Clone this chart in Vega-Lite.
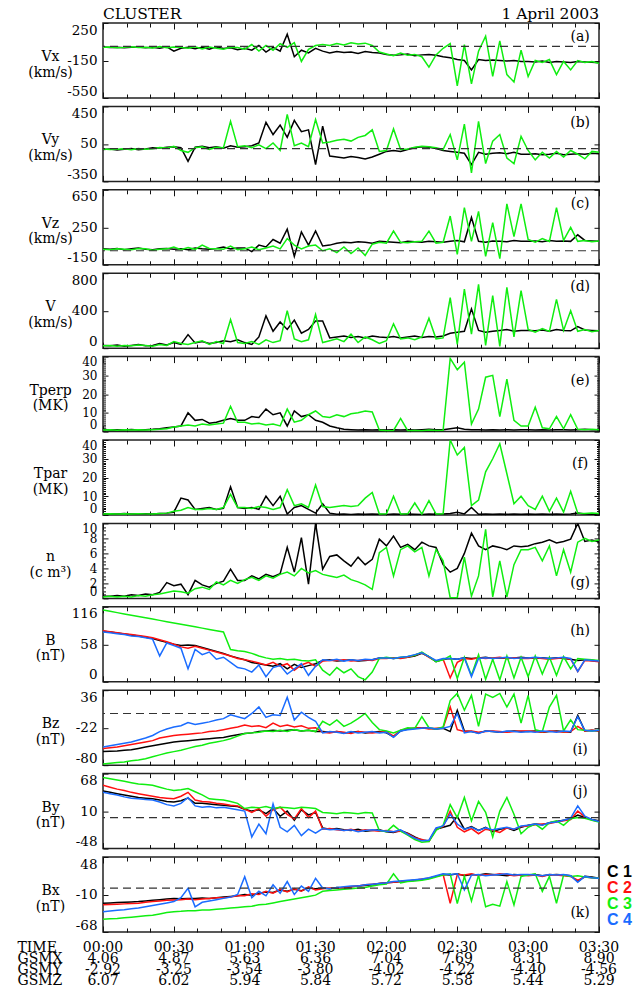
{
"$schema":"https://vega.github.io/schema/vega-lite/v6.json",
"background":"white",
"padding":{"left":17,"top":6,"right":0,"bottom":0},
"bounds":"flush",
"spacing":8.4,
"resolve":{"scale":{"color":"independent"}},
"config":{
 "font":"DejaVu Serif",
 "locale":{"number":{"decimal":".","thousands":",","grouping":[3],"currency":["$",""],"minus":"-"}},
 "view":{"stroke":"#222","strokeWidth":1.5},
 "axis":{"grid":false,"domain":false,"labelOverlap":false,"tickColor":"#111","tickWidth":1,"labelFont":"DejaVu Serif","labelFontSize":13.5,"labelColor":"black","titleFont":"DejaVu Serif","titleFontSize":14,"titleFontWeight":"normal","titleColor":"black"},
 "axisX":{"labels":false,"tickCount":21},
 "axisLeft":{"tickSize":-5,"labelPadding":11,"labelFlush":true,"titleAngle":0,"titleX":-53,"titleY":33.5,"titleAlign":"center","titleBaseline":"middle","titleLineHeight":15.5},
 "axisRight":{"tickSize":-5,"labels":false},
 "text":{"font":"DejaVu Serif"}
},
"datasets":{
"a":[{"t":0,"k":-5,"g":-8},{"t":3,"k":-12,"g":-6},{"t":6,"k":-8,"g":-14},{"t":9,"k":-15,"g":-10},{"t":12,"k":-10,"g":-4},{"t":15,"k":-6,"g":-12},{"t":18,"k":-14,"g":-8},{"t":21,"k":-9,"g":-16},{"t":24,"k":-18,"g":-2},{"t":27,"k":-4,"g":-14},{"t":30,"k":-50,"g":-6},{"t":33,"k":-20,"g":-10},{"t":36,"k":-8,"g":-18},{"t":39,"k":-25,"g":-4},{"t":42,"k":-10,"g":-28},{"t":45,"k":-30,"g":-6},{"t":48,"k":-5,"g":-20},{"t":51,"k":-22,"g":-30},{"t":54,"k":-15,"g":-10},{"t":57,"k":-35,"g":-12},{"t":60,"k":-20,"g":-30},{"t":63,"k":-40,"g":20},{"t":66,"k":10,"g":-50},{"t":69,"k":-60,"g":10},{"t":72,"k":-10,"g":-40},{"t":75,"k":-50,"g":30},{"t":78,"k":130,"g":-10},{"t":81,"k":-110,"g":40},{"t":84,"k":-40,"g":-160},{"t":87,"k":-70,"g":-30},{"t":90,"k":-20,"g":10},{"t":93,"k":-50,"g":20},{"t":96,"k":-70,"g":10},{"t":99,"k":-55,"g":30},{"t":102,"k":-65,"g":15},{"t":105,"k":-60,"g":40},{"t":108,"k":-75,"g":25},{"t":111,"k":-55,"g":35},{"t":114,"k":-65,"g":10},{"t":117,"k":-70,"g":-60},{"t":120,"k":-85,"g":-80},{"t":123,"k":-95,"g":-100},{"t":126,"k":-90,"g":-70},{"t":129,"k":-80,"g":-95},{"t":132,"k":-100,"g":-85},{"t":135,"k":-90,"g":-110},{"t":138,"k":-85,"g":-220},{"t":141,"k":-95,"g":-90},{"t":144,"k":-110,"g":-20},{"t":147,"k":-120,"g":30},{"t":150,"k":-140,"g":-420},{"t":153,"k":-150,"g":20},{"t":156,"k":-250,"g":-400},{"t":159,"k":-140,"g":-50},{"t":162,"k":-150,"g":110},{"t":165,"k":-145,"g":-320},{"t":168,"k":-150,"g":60},{"t":171,"k":-155,"g":-300},{"t":174,"k":-150,"g":-380},{"t":177,"k":-160,"g":-40},{"t":180,"k":-160,"g":-320},{"t":183,"k":-165,"g":-150},{"t":186,"k":-155,"g":-170},{"t":189,"k":-170,"g":-140},{"t":192,"k":-160,"g":-300},{"t":195,"k":-165,"g":-160},{"t":198,"k":-170,"g":-250},{"t":201,"k":-160,"g":-150},{"t":204,"k":-165,"g":-170},{"t":207,"k":-170,"g":-160},{"t":210,"k":-175,"g":-180}],
"b":[{"t":0,"k":-10,"g":-5},{"t":3,"k":-5,"g":-10},{"t":6,"k":-15,"g":-8},{"t":9,"k":-8,"g":-2},{"t":12,"k":0,"g":-12},{"t":15,"k":-12,"g":0},{"t":18,"k":-5,"g":-6},{"t":21,"k":10,"g":-2},{"t":24,"k":5,"g":12},{"t":27,"k":15,"g":5},{"t":30,"k":20,"g":25},{"t":33,"k":10,"g":-20},{"t":36,"k":-135,"g":-40},{"t":39,"k":15,"g":10},{"t":42,"k":25,"g":20},{"t":45,"k":10,"g":-10},{"t":48,"k":20,"g":15},{"t":51,"k":5,"g":10},{"t":54,"k":30,"g":290},{"t":57,"k":15,"g":20},{"t":60,"k":20,"g":30},{"t":63,"k":30,"g":10},{"t":66,"k":60,"g":40},{"t":69,"k":280,"g":0},{"t":72,"k":150,"g":60},{"t":75,"k":250,"g":-20},{"t":78,"k":120,"g":365},{"t":81,"k":300,"g":30},{"t":84,"k":180,"g":60},{"t":87,"k":200,"g":20},{"t":90,"k":-170,"g":310},{"t":93,"k":240,"g":60},{"t":96,"k":-80,"g":70},{"t":99,"k":-90,"g":90},{"t":102,"k":-100,"g":100},{"t":105,"k":-85,"g":80},{"t":108,"k":-95,"g":120},{"t":111,"k":-110,"g":140},{"t":114,"k":-90,"g":200},{"t":117,"k":-60,"g":-30},{"t":120,"k":-30,"g":-20},{"t":123,"k":-20,"g":210},{"t":126,"k":-30,"g":-10},{"t":129,"k":-10,"g":-5},{"t":132,"k":10,"g":15},{"t":135,"k":20,"g":25},{"t":138,"k":15,"g":20},{"t":141,"k":0,"g":10},{"t":144,"k":-20,"g":-10},{"t":147,"k":-30,"g":150},{"t":150,"k":-40,"g":-120},{"t":153,"k":-50,"g":260},{"t":156,"k":-170,"g":-260},{"t":159,"k":-40,"g":290},{"t":162,"k":-60,"g":-160},{"t":165,"k":-50,"g":80},{"t":168,"k":-45,"g":150},{"t":171,"k":-55,"g":-100},{"t":174,"k":-40,"g":-160},{"t":177,"k":-60,"g":130},{"t":180,"k":-60,"g":-20},{"t":183,"k":-55,"g":-120},{"t":186,"k":-65,"g":-40},{"t":189,"k":-60,"g":-100},{"t":192,"k":-50,"g":-30},{"t":195,"k":-65,"g":-90},{"t":198,"k":-60,"g":-20},{"t":201,"k":-55,"g":-60},{"t":204,"k":-60,"g":-110},{"t":207,"k":-50,"g":-30},{"t":210,"k":-55,"g":-40}],
"c":[{"t":0,"k":20,"g":15},{"t":3,"k":15,"g":10},{"t":6,"k":25,"g":20},{"t":9,"k":10,"g":15},{"t":12,"k":20,"g":10},{"t":15,"k":30,"g":25},{"t":18,"k":15,"g":20},{"t":21,"k":10,"g":5},{"t":24,"k":20,"g":15},{"t":27,"k":25,"g":20},{"t":30,"k":15,"g":40},{"t":33,"k":20,"g":10},{"t":36,"k":10,"g":35},{"t":39,"k":30,"g":15},{"t":42,"k":20,"g":60},{"t":45,"k":15,"g":25},{"t":48,"k":25,"g":20},{"t":51,"k":40,"g":15},{"t":54,"k":20,"g":50},{"t":57,"k":30,"g":10},{"t":60,"k":30,"g":20},{"t":63,"k":-10,"g":40},{"t":66,"k":60,"g":10},{"t":69,"k":40,"g":30},{"t":72,"k":120,"g":50},{"t":75,"k":80,"g":20},{"t":78,"k":230,"g":130},{"t":81,"k":-60,"g":60},{"t":84,"k":200,"g":20},{"t":87,"k":60,"g":50},{"t":90,"k":210,"g":60},{"t":93,"k":50,"g":0},{"t":96,"k":60,"g":20},{"t":99,"k":80,"g":-20},{"t":102,"k":90,"g":40},{"t":105,"k":85,"g":-30},{"t":108,"k":95,"g":30},{"t":111,"k":90,"g":-50},{"t":114,"k":80,"g":70},{"t":117,"k":100,"g":90},{"t":120,"k":95,"g":80},{"t":123,"k":90,"g":210},{"t":126,"k":85,"g":90},{"t":129,"k":100,"g":85},{"t":132,"k":95,"g":95},{"t":135,"k":90,"g":100},{"t":138,"k":100,"g":210},{"t":141,"k":95,"g":80},{"t":144,"k":90,"g":90},{"t":147,"k":100,"g":370},{"t":150,"k":110,"g":-40},{"t":153,"k":95,"g":460},{"t":156,"k":355,"g":100},{"t":159,"k":100,"g":420},{"t":162,"k":90,"g":-60},{"t":165,"k":105,"g":300},{"t":168,"k":100,"g":-85},{"t":171,"k":95,"g":500},{"t":174,"k":110,"g":150},{"t":177,"k":100,"g":500},{"t":180,"k":100,"g":120},{"t":183,"k":105,"g":90},{"t":186,"k":95,"g":130},{"t":189,"k":110,"g":100},{"t":192,"k":100,"g":460},{"t":195,"k":105,"g":110},{"t":198,"k":100,"g":250},{"t":201,"k":170,"g":100},{"t":204,"k":110,"g":110},{"t":207,"k":105,"g":95},{"t":210,"k":100,"g":105}],
"d":[{"t":0,"k":30,"g":25},{"t":3,"k":25,"g":30},{"t":6,"k":35,"g":20},{"t":9,"k":20,"g":30},{"t":12,"k":30,"g":25},{"t":15,"k":40,"g":35},{"t":18,"k":25,"g":30},{"t":21,"k":30,"g":20},{"t":24,"k":50,"g":40},{"t":27,"k":35,"g":30},{"t":30,"k":60,"g":70},{"t":33,"k":40,"g":50},{"t":36,"k":145,"g":40},{"t":39,"k":55,"g":60},{"t":42,"k":70,"g":80},{"t":45,"k":50,"g":40},{"t":48,"k":60,"g":70},{"t":51,"k":80,"g":50},{"t":54,"k":70,"g":305},{"t":57,"k":90,"g":60},{"t":60,"k":60,"g":50},{"t":63,"k":40,"g":70},{"t":66,"k":120,"g":40},{"t":69,"k":345,"g":90},{"t":72,"k":180,"g":60},{"t":75,"k":280,"g":80},{"t":78,"k":200,"g":400},{"t":81,"k":300,"g":100},{"t":84,"k":160,"g":70},{"t":87,"k":200,"g":90},{"t":90,"k":290,"g":360},{"t":93,"k":290,"g":60},{"t":96,"k":110,"g":80},{"t":99,"k":120,"g":100},{"t":102,"k":130,"g":70},{"t":105,"k":115,"g":150},{"t":108,"k":125,"g":60},{"t":111,"k":110,"g":120},{"t":114,"k":130,"g":90},{"t":117,"k":120,"g":50},{"t":120,"k":115,"g":80},{"t":123,"k":125,"g":260},{"t":126,"k":110,"g":100},{"t":129,"k":120,"g":110},{"t":132,"k":130,"g":90},{"t":135,"k":115,"g":120},{"t":138,"k":125,"g":320},{"t":141,"k":120,"g":100},{"t":144,"k":130,"g":110},{"t":147,"k":160,"g":540},{"t":150,"k":170,"g":40},{"t":153,"k":180,"g":630},{"t":156,"k":420,"g":150},{"t":159,"k":190,"g":680},{"t":162,"k":170,"g":30},{"t":165,"k":180,"g":560},{"t":168,"k":190,"g":20},{"t":171,"k":200,"g":650},{"t":174,"k":180,"g":120},{"t":177,"k":190,"g":615},{"t":180,"k":190,"g":200},{"t":183,"k":185,"g":170},{"t":186,"k":195,"g":210},{"t":189,"k":180,"g":180},{"t":192,"k":200,"g":520},{"t":195,"k":190,"g":190},{"t":198,"k":185,"g":400},{"t":201,"k":230,"g":180},{"t":204,"k":195,"g":200},{"t":207,"k":190,"g":175},{"t":210,"k":185,"g":190}],
"e":[{"t":0,"k":1.2,"g":0.8},{"t":3,"k":0.8,"g":1},{"t":6,"k":1,"g":0.7},{"t":9,"k":0.9,"g":1},{"t":12,"k":1.1,"g":0.9},{"t":15,"k":0.8,"g":1},{"t":18,"k":1,"g":0.8},{"t":21,"k":1.2,"g":1},{"t":24,"k":1.5,"g":1.2},{"t":27,"k":2,"g":1.5},{"t":30,"k":2.5,"g":2.5},{"t":33,"k":3,"g":3},{"t":36,"k":10,"g":3.5},{"t":39,"k":6,"g":3},{"t":42,"k":6.5,"g":4},{"t":45,"k":4.5,"g":3.5},{"t":48,"k":5,"g":4},{"t":51,"k":6,"g":4.5},{"t":54,"k":7,"g":13.5},{"t":57,"k":6,"g":5},{"t":60,"k":6,"g":5},{"t":63,"k":8,"g":4},{"t":66,"k":7.5,"g":4.5},{"t":69,"k":12,"g":3.5},{"t":72,"k":9,"g":4},{"t":75,"k":10,"g":3},{"t":78,"k":3,"g":12},{"t":81,"k":11,"g":5},{"t":84,"k":8,"g":6},{"t":87,"k":9,"g":9},{"t":90,"k":6,"g":11},{"t":93,"k":5,"g":8},{"t":96,"k":3,"g":7.5},{"t":99,"k":2,"g":9},{"t":102,"k":1.2,"g":8},{"t":105,"k":1,"g":9.5},{"t":108,"k":0.8,"g":10},{"t":111,"k":1,"g":11},{"t":114,"k":0.9,"g":10.5},{"t":117,"k":1,"g":0.8},{"t":120,"k":0.8,"g":0.5},{"t":123,"k":1,"g":0.6},{"t":126,"k":0.9,"g":7},{"t":129,"k":1,"g":0.5},{"t":132,"k":0.8,"g":0.6},{"t":135,"k":1,"g":0.5},{"t":138,"k":1.2,"g":0.8},{"t":141,"k":1,"g":0.6},{"t":144,"k":1,"g":0.7},{"t":147,"k":1.5,"g":39},{"t":150,"k":2,"g":33},{"t":153,"k":1.2,"g":37},{"t":156,"k":1,"g":4},{"t":159,"k":1,"g":12},{"t":162,"k":0.9,"g":29},{"t":165,"k":1,"g":30},{"t":168,"k":0.8,"g":8},{"t":171,"k":1,"g":28},{"t":174,"k":0.9,"g":6},{"t":177,"k":1,"g":3},{"t":180,"k":1,"g":3},{"t":183,"k":0.8,"g":13},{"t":186,"k":1,"g":2},{"t":189,"k":0.9,"g":1.5},{"t":192,"k":1,"g":8},{"t":195,"k":1,"g":1.5},{"t":198,"k":0.8,"g":9},{"t":201,"k":1,"g":1.2},{"t":204,"k":1.2,"g":1},{"t":207,"k":1,"g":1.2},{"t":210,"k":1,"g":1}],
"f":[{"t":0,"k":0.5,"g":0.5},{"t":3,"k":0.6,"g":0.6},{"t":6,"k":0.5,"g":0.5},{"t":9,"k":0.8,"g":0.6},{"t":12,"k":0.5,"g":0.5},{"t":15,"k":0.6,"g":0.7},{"t":18,"k":0.7,"g":0.6},{"t":21,"k":0.5,"g":0.5},{"t":24,"k":0.8,"g":0.8},{"t":27,"k":1,"g":1},{"t":30,"k":1.5,"g":2},{"t":33,"k":9,"g":2.5},{"t":36,"k":8,"g":4},{"t":39,"k":3,"g":3},{"t":42,"k":3.5,"g":3},{"t":45,"k":4,"g":3.5},{"t":48,"k":3,"g":3},{"t":51,"k":3.5,"g":4},{"t":54,"k":15,"g":11},{"t":57,"k":4,"g":4},{"t":60,"k":3.5,"g":4},{"t":63,"k":4,"g":3.5},{"t":66,"k":3,"g":4.5},{"t":69,"k":10,"g":4},{"t":72,"k":5,"g":3},{"t":75,"k":10,"g":4},{"t":78,"k":0.5,"g":13.5},{"t":81,"k":4,"g":5},{"t":84,"k":5,"g":6},{"t":87,"k":3,"g":4},{"t":90,"k":1,"g":16},{"t":93,"k":6,"g":4.5},{"t":96,"k":1,"g":4},{"t":99,"k":0.4,"g":4.5},{"t":102,"k":0.5,"g":5},{"t":105,"k":0.3,"g":4.5},{"t":108,"k":0.5,"g":5},{"t":111,"k":0.4,"g":9},{"t":114,"k":0.5,"g":12},{"t":117,"k":0.4,"g":0.5},{"t":120,"k":0.3,"g":0.6},{"t":123,"k":0.5,"g":10},{"t":126,"k":0.4,"g":0.5},{"t":129,"k":0.5,"g":0.6},{"t":132,"k":0.4,"g":6.4},{"t":135,"k":0.3,"g":0.5},{"t":138,"k":0.5,"g":7.7},{"t":141,"k":0.4,"g":0.5},{"t":144,"k":0.5,"g":0.6},{"t":147,"k":0.8,"g":40},{"t":150,"k":1.5,"g":32},{"t":153,"k":0.6,"g":36},{"t":156,"k":4,"g":5},{"t":159,"k":0.4,"g":8},{"t":162,"k":0.5,"g":23},{"t":165,"k":0.4,"g":30},{"t":168,"k":0.5,"g":38},{"t":171,"k":0.4,"g":22},{"t":174,"k":0.5,"g":6},{"t":177,"k":0.4,"g":10},{"t":180,"k":0.5,"g":5},{"t":183,"k":0.4,"g":3},{"t":186,"k":0.5,"g":10},{"t":189,"k":0.4,"g":2},{"t":192,"k":0.5,"g":9},{"t":195,"k":0.4,"g":1.5},{"t":198,"k":0.5,"g":12.6},{"t":201,"k":1,"g":1},{"t":204,"k":0.5,"g":0.8},{"t":207,"k":0.4,"g":1},{"t":210,"k":0.5,"g":0.8}],
"g":[{"t":0,"k":0.3,"g":0.2},{"t":3,"k":0.3,"g":0.3},{"t":6,"k":0.4,"g":0.2},{"t":9,"k":0.3,"g":0.3},{"t":12,"k":0.5,"g":0.2},{"t":15,"k":0.4,"g":0.4},{"t":18,"k":0.6,"g":0.3},{"t":21,"k":0.5,"g":0.5},{"t":24,"k":0.8,"g":0.6},{"t":27,"k":2.1,"g":0.8},{"t":30,"k":1.7,"g":1},{"t":33,"k":1.9,"g":0.9},{"t":36,"k":0.5,"g":0.7},{"t":39,"k":2.4,"g":1.3},{"t":42,"k":1.8,"g":1.5},{"t":45,"k":1.5,"g":1.2},{"t":48,"k":2,"g":2.2},{"t":51,"k":2.3,"g":1.8},{"t":54,"k":3.9,"g":2.4},{"t":57,"k":2.4,"g":2},{"t":60,"k":2.4,"g":2.5},{"t":63,"k":3,"g":2.8},{"t":66,"k":2.6,"g":2.4},{"t":69,"k":3.2,"g":3},{"t":72,"k":2.9,"g":2.7},{"t":75,"k":3.3,"g":3.2},{"t":78,"k":6.8,"g":3.5},{"t":81,"k":3.5,"g":3},{"t":84,"k":8.1,"g":4},{"t":87,"k":1.9,"g":3.4},{"t":90,"k":10,"g":3.7},{"t":93,"k":3.9,"g":3.2},{"t":96,"k":5.6,"g":3},{"t":99,"k":5.8,"g":2.8},{"t":102,"k":5,"g":3.1},{"t":105,"k":4.3,"g":2.5},{"t":108,"k":5.5,"g":2.2},{"t":111,"k":4.5,"g":1.8},{"t":114,"k":5.2,"g":1.2},{"t":117,"k":7.9,"g":6.1},{"t":120,"k":7,"g":6.8},{"t":123,"k":8.3,"g":3},{"t":126,"k":6.8,"g":6.5},{"t":129,"k":7.2,"g":7},{"t":132,"k":6.5,"g":6.2},{"t":135,"k":7.5,"g":6.8},{"t":138,"k":7,"g":3},{"t":141,"k":6.8,"g":6.5},{"t":144,"k":4.5,"g":5},{"t":147,"k":3.5,"g":0.1},{"t":150,"k":4,"g":0.1},{"t":153,"k":6,"g":5.5},{"t":156,"k":8.7,"g":0.3},{"t":159,"k":7,"g":3},{"t":162,"k":6.5,"g":9.2},{"t":165,"k":7,"g":0.2},{"t":168,"k":6.8,"g":5},{"t":171,"k":6.5,"g":0.2},{"t":174,"k":7,"g":4.5},{"t":177,"k":6.9,"g":6.5},{"t":180,"k":7,"g":6.5},{"t":183,"k":7.3,"g":6.8},{"t":186,"k":7.5,"g":5},{"t":189,"k":7.8,"g":7},{"t":192,"k":7.4,"g":3},{"t":195,"k":7.6,"g":6.5},{"t":198,"k":7.9,"g":3.5},{"t":201,"k":10,"g":7.5},{"t":204,"k":7.6,"g":8},{"t":207,"k":7.8,"g":7.6},{"t":210,"k":7.5,"g":7.8}],
"h":[{"t":0,"k":78,"r":79,"g":111,"b":77},{"t":3,"k":77,"r":77.5,"g":109,"b":76},{"t":6,"k":75.5,"r":76,"g":107,"b":74.5},{"t":9,"k":74,"r":74.5,"g":105,"b":73},{"t":12,"k":72.5,"r":73,"g":103,"b":71},{"t":15,"k":71,"r":71.5,"g":101,"b":70},{"t":18,"k":69,"r":70,"g":99,"b":68},{"t":21,"k":67,"r":68,"g":97,"b":66},{"t":24,"k":64,"r":65,"g":95,"b":40},{"t":27,"k":61,"r":62,"g":93,"b":60},{"t":30,"k":58,"r":58,"g":91,"b":56},{"t":33,"k":56,"r":54,"g":89,"b":52},{"t":36,"k":57,"r":52,"g":87,"b":20},{"t":39,"k":56,"r":55,"g":85,"b":50},{"t":42,"k":53,"r":52,"g":83,"b":42},{"t":45,"k":50,"r":49,"g":81,"b":46},{"t":48,"k":47,"r":46,"g":79,"b":35},{"t":51,"k":44,"r":43,"g":77,"b":38},{"t":54,"k":40,"r":40,"g":50,"b":30},{"t":57,"k":37,"r":36,"g":48,"b":22},{"t":60,"k":34,"r":34,"g":47,"b":20},{"t":63,"k":30,"r":32,"g":44,"b":15},{"t":66,"k":28,"r":29,"g":40,"b":26},{"t":69,"k":26,"r":26,"g":37,"b":8},{"t":72,"k":24,"r":30,"g":35,"b":22},{"t":75,"k":28,"r":24,"g":36,"b":25},{"t":78,"k":20,"r":28,"g":34,"b":12},{"t":81,"k":27,"r":18,"g":35,"b":20},{"t":84,"k":22,"r":26,"g":33,"b":28},{"t":87,"k":25,"r":30,"g":32,"b":10},{"t":90,"k":28,"r":24,"g":34,"b":24},{"t":93,"k":33,"r":32,"g":18,"b":34},{"t":96,"k":34,"r":33,"g":10,"b":33},{"t":99,"k":32,"r":33,"g":22,"b":35},{"t":102,"k":33,"r":34,"g":14,"b":32},{"t":105,"k":34,"r":32,"g":20,"b":34},{"t":108,"k":32,"r":33,"g":8,"b":33},{"t":111,"k":33,"r":34,"g":3,"b":35},{"t":114,"k":34,"r":33,"g":15,"b":34},{"t":117,"k":37,"r":36,"g":36,"b":37},{"t":120,"k":37,"r":36,"g":38,"b":37},{"t":123,"k":36,"r":37,"g":36,"b":36},{"t":126,"k":37,"r":36,"g":38,"b":38},{"t":129,"k":38,"r":38,"g":39,"b":39},{"t":132,"k":40,"r":41,"g":41,"b":42},{"t":135,"k":44,"r":45,"g":46,"b":45},{"t":138,"k":39,"r":38,"g":39,"b":39},{"t":141,"k":31,"r":32,"g":31,"b":33},{"t":144,"k":35,"r":35,"g":34,"b":36},{"t":147,"k":36,"r":6,"g":40,"b":36},{"t":150,"k":35,"r":30,"g":5,"b":35},{"t":153,"k":37,"r":36,"g":38,"b":37},{"t":156,"k":36,"r":35,"g":10,"b":8},{"t":159,"k":37,"r":37,"g":42,"b":36},{"t":162,"k":38,"r":36,"g":4,"b":37},{"t":165,"k":36,"r":37,"g":35,"b":36},{"t":168,"k":37,"r":38,"g":3,"b":37},{"t":171,"k":36,"r":36,"g":40,"b":38},{"t":174,"k":37,"r":37,"g":6,"b":36},{"t":177,"k":38,"r":36,"g":38,"b":37},{"t":180,"k":37,"r":36,"g":8,"b":37},{"t":183,"k":36,"r":37,"g":40,"b":38},{"t":186,"k":37,"r":36,"g":12,"b":37},{"t":189,"k":36,"r":35,"g":38,"b":36},{"t":192,"k":37,"r":36,"g":10,"b":37},{"t":195,"k":36,"r":37,"g":39,"b":38},{"t":198,"k":35,"r":35,"g":20,"b":36},{"t":201,"k":33,"r":16,"g":36,"b":16},{"t":204,"k":34,"r":33,"g":35,"b":34},{"t":207,"k":33,"r":32,"g":34,"b":33},{"t":210,"k":32,"r":31,"g":33,"b":32}],
"i":[{"t":0,"k":-59,"r":-54,"g":-78,"b":-52},{"t":3,"k":-58.5,"r":-53,"g":-77,"b":-50},{"t":6,"k":-58,"r":-52,"g":-76,"b":-48},{"t":9,"k":-57,"r":-50,"g":-75,"b":-46},{"t":12,"k":-56,"r":-48,"g":-73,"b":-44},{"t":15,"k":-54,"r":-46,"g":-72,"b":-41},{"t":18,"k":-52,"r":-44,"g":-70,"b":-38},{"t":21,"k":-50,"r":-42,"g":-67,"b":-34},{"t":24,"k":-48,"r":-38,"g":-64,"b":-28},{"t":27,"k":-46,"r":-36,"g":-61,"b":-24},{"t":30,"k":-44,"r":-34,"g":-59,"b":-21},{"t":33,"k":-43,"r":-33,"g":-57,"b":-19},{"t":36,"k":-42,"r":-32,"g":-54,"b":-14},{"t":39,"k":-41,"r":-31,"g":-51,"b":-17},{"t":42,"k":-40,"r":-30,"g":-49,"b":-15},{"t":45,"k":-39,"r":-28,"g":-46,"b":-13},{"t":48,"k":-38,"r":-27,"g":-44,"b":-10},{"t":51,"k":-37,"r":-25,"g":-42,"b":-8},{"t":54,"k":-35,"r":-23,"g":-39,"b":-2},{"t":57,"k":-33,"r":-21,"g":-35,"b":-5},{"t":60,"k":-31,"r":-18,"g":-31,"b":-8},{"t":63,"k":-30,"r":-20,"g":-30,"b":0},{"t":66,"k":-28,"r":-19,"g":-29,"b":10},{"t":69,"k":-27,"r":-22,"g":-27,"b":-6},{"t":72,"k":-26,"r":-15,"g":-28,"b":-2},{"t":75,"k":-27,"r":-20,"g":-26,"b":-3},{"t":78,"k":-26,"r":-18,"g":-28,"b":25},{"t":81,"k":-25,"r":-21,"g":-25,"b":-10},{"t":84,"k":-27,"r":-19,"g":-27,"b":2},{"t":87,"k":-26,"r":-23,"g":-26,"b":-6},{"t":90,"k":-28,"r":-22,"g":-28,"b":-12},{"t":93,"k":-28,"r":-29,"g":-12,"b":-30},{"t":96,"k":-29,"r":-30,"g":-18,"b":-28},{"t":99,"k":-28,"r":-28,"g":-10,"b":-29},{"t":102,"k":-30,"r":-29,"g":-20,"b":-31},{"t":105,"k":-29,"r":-31,"g":-15,"b":-28},{"t":108,"k":-28,"r":-28,"g":-8,"b":-30},{"t":111,"k":-30,"r":-29,"g":0,"b":-29},{"t":114,"k":-29,"r":-30,"g":-14,"b":-28},{"t":117,"k":-28,"r":-29,"g":-25,"b":-30},{"t":120,"k":-30,"r":-28,"g":-27,"b":-29},{"t":123,"k":-36,"r":-35,"g":-30,"b":-37},{"t":126,"k":-27,"r":-26,"g":-26,"b":-27},{"t":129,"k":-24,"r":-24,"g":-22,"b":-25},{"t":132,"k":-23,"r":-23,"g":-23,"b":-24},{"t":135,"k":-22,"r":-22,"g":-5,"b":-23},{"t":138,"k":-23,"r":-24,"g":-22,"b":-22},{"t":141,"k":-24,"r":-23,"g":-24,"b":-24},{"t":144,"k":-23,"r":-22,"g":-21,"b":-23},{"t":147,"k":-28,"r":10,"g":20,"b":-20},{"t":150,"k":5,"r":-25,"g":31,"b":0},{"t":153,"k":-27,"r":-28,"g":5,"b":-30},{"t":156,"k":-28,"r":-27,"g":28,"b":-28},{"t":159,"k":-30,"r":-29,"g":-20,"b":-31},{"t":162,"k":-27,"r":-28,"g":30,"b":-27},{"t":165,"k":-28,"r":-27,"g":25,"b":-28},{"t":168,"k":-29,"r":-28,"g":31,"b":-29},{"t":171,"k":-28,"r":-29,"g":10,"b":-27},{"t":174,"k":-27,"r":-28,"g":30,"b":-28},{"t":177,"k":-28,"r":-27,"g":-15,"b":-29},{"t":180,"k":-28,"r":-27,"g":28,"b":-28},{"t":183,"k":-27,"r":-28,"g":-25,"b":-29},{"t":186,"k":-29,"r":-29,"g":-28,"b":-27},{"t":189,"k":-28,"r":-27,"g":10,"b":-28},{"t":192,"k":-27,"r":-28,"g":28,"b":-29},{"t":195,"k":-28,"r":-29,"g":-27,"b":-27},{"t":198,"k":-29,"r":-28,"g":-10,"b":-28},{"t":201,"k":-3,"r":-20,"g":-25,"b":-5},{"t":204,"k":-27,"r":-27,"g":-26,"b":-26},{"t":207,"k":-26,"r":-26,"g":-27,"b":-27},{"t":210,"k":-27,"r":-27,"g":-26,"b":-26}],
"j":[{"t":0,"k":41,"r":50,"g":62,"b":39},{"t":3,"k":39,"r":47,"g":60,"b":37},{"t":6,"k":37,"r":44,"g":58,"b":35},{"t":9,"k":35,"r":42,"g":56,"b":32},{"t":12,"k":33,"r":39,"g":54,"b":30},{"t":15,"k":31,"r":37,"g":52,"b":29},{"t":18,"k":30,"r":35,"g":51,"b":28},{"t":21,"k":29,"r":33,"g":50,"b":27},{"t":24,"k":27,"r":31,"g":47,"b":24},{"t":27,"k":25,"r":30,"g":44,"b":20},{"t":30,"k":24,"r":29,"g":42,"b":18},{"t":33,"k":26,"r":33,"g":43,"b":22},{"t":36,"k":30,"r":39,"g":45,"b":31},{"t":39,"k":22,"r":27,"g":40,"b":18},{"t":42,"k":22,"r":25,"g":35,"b":16},{"t":45,"k":21,"r":24,"g":29,"b":17},{"t":48,"k":20,"r":22,"g":28,"b":15},{"t":51,"k":19,"r":21,"g":27,"b":16},{"t":54,"k":18,"r":19,"g":25,"b":14},{"t":57,"k":17,"r":18,"g":22,"b":12},{"t":60,"k":13,"r":13,"g":14,"b":10},{"t":63,"k":10,"r":8,"g":16,"b":-30},{"t":66,"k":12,"r":14,"g":15,"b":-10},{"t":69,"k":6,"r":2,"g":17,"b":-25},{"t":72,"k":14,"r":12,"g":14,"b":21},{"t":75,"k":2,"r":16,"g":16,"b":-15},{"t":78,"k":10,"r":5,"g":15,"b":-22},{"t":81,"k":-4,"r":-2,"g":14,"b":-12},{"t":84,"k":12,"r":14,"g":16,"b":-28},{"t":87,"k":4,"r":0,"g":15,"b":-18},{"t":90,"k":8,"r":10,"g":14,"b":-24},{"t":93,"k":-16,"r":-18,"g":8,"b":-17},{"t":96,"k":-18,"r":-17,"g":7,"b":-19},{"t":99,"k":-17,"r":-19,"g":6,"b":-18},{"t":102,"k":-19,"r":-20,"g":8,"b":-20},{"t":105,"k":-20,"r":-18,"g":7,"b":-19},{"t":108,"k":-18,"r":-21,"g":6,"b":-22},{"t":111,"k":-21,"r":-19,"g":8,"b":-20},{"t":114,"k":-20,"r":-20,"g":7,"b":-19},{"t":117,"k":-19,"r":-21,"g":-20,"b":-20},{"t":120,"k":-22,"r":-20,"g":-22,"b":-21},{"t":123,"k":-23,"r":-22,"g":-12,"b":-22},{"t":126,"k":-20,"r":-21,"g":-21,"b":-19},{"t":129,"k":-24,"r":-25,"g":-27,"b":-26},{"t":132,"k":-30,"r":-31,"g":-34,"b":-32},{"t":135,"k":-35,"r":-34,"g":-38,"b":-36},{"t":138,"k":-36,"r":-37,"g":-37,"b":-35},{"t":141,"k":-18,"r":-17,"g":-20,"b":-16},{"t":144,"k":-15,"r":-14,"g":-12,"b":-13},{"t":147,"k":-12,"r":10,"g":20,"b":5},{"t":150,"k":2,"r":-15,"g":0,"b":-10},{"t":153,"k":-18,"r":-22,"g":31,"b":-18},{"t":156,"k":-14,"r":-17,"g":-5,"b":-15},{"t":159,"k":-20,"r":-25,"g":25,"b":-20},{"t":162,"k":-15,"r":-18,"g":8,"b":-16},{"t":165,"k":-22,"r":-20,"g":-30,"b":-19},{"t":168,"k":-18,"r":-23,"g":10,"b":-17},{"t":171,"k":-16,"r":-16,"g":31,"b":-15},{"t":174,"k":-20,"r":-18,"g":5,"b":-18},{"t":177,"k":-15,"r":-14,"g":-25,"b":-13},{"t":180,"k":-12,"r":-13,"g":-15,"b":-12},{"t":183,"k":-10,"r":-11,"g":-10,"b":-10},{"t":186,"k":-11,"r":-10,"g":-18,"b":-12},{"t":189,"k":-8,"r":-9,"g":-8,"b":-8},{"t":192,"k":-6,"r":-7,"g":-5,"b":-7},{"t":195,"k":-4,"r":-5,"g":-12,"b":-4},{"t":198,"k":-2,"r":-3,"g":-2,"b":-1},{"t":201,"k":4,"r":10,"g":0,"b":18},{"t":204,"k":0,"r":1,"g":-1,"b":2},{"t":207,"k":-3,"r":-4,"g":-4,"b":-3},{"t":210,"k":-5,"r":-6,"g":-7,"b":-6}],
"k":[{"t":0,"k":-23.6,"r":-26,"g":-48.4,"b":-36.6},{"t":3,"k":-23,"r":-25.5,"g":-47.5,"b":-35.5},{"t":6,"k":-22.5,"r":-25,"g":-47,"b":-34.5},{"t":9,"k":-22,"r":-24.5,"g":-46,"b":-33.5},{"t":12,"k":-21.5,"r":-24,"g":-45,"b":-32},{"t":15,"k":-21,"r":-23.6,"g":-44,"b":-31},{"t":18,"k":-20,"r":-22,"g":-43,"b":-29},{"t":21,"k":-19,"r":-21,"g":-42,"b":-27},{"t":24,"k":-18,"r":-20,"g":-40,"b":-25},{"t":27,"k":-17,"r":-19,"g":-38,"b":-23},{"t":30,"k":-16,"r":-18.5,"g":-36.6,"b":-21},{"t":33,"k":-16.5,"r":-18,"g":-36,"b":-15},{"t":36,"k":-16,"r":-17,"g":-35,"b":-0.5},{"t":39,"k":-16,"r":-18,"g":-35,"b":-29},{"t":42,"k":-15.5,"r":-17,"g":-34,"b":-22},{"t":45,"k":-16,"r":-16,"g":-34,"b":-20},{"t":48,"k":-15,"r":-15,"g":-33,"b":-18},{"t":51,"k":-14,"r":-15,"g":-32,"b":-16},{"t":54,"k":-13,"r":-14,"g":-31,"b":-14},{"t":57,"k":-12,"r":-12,"g":-30,"b":-10},{"t":60,"k":-10,"r":-12,"g":-29,"b":17.6},{"t":63,"k":-11,"r":-9,"g":-28,"b":-15},{"t":66,"k":-8,"r":-10,"g":-26,"b":-5},{"t":69,"k":-6,"r":-5,"g":-25,"b":-12},{"t":72,"k":-7,"r":-8,"g":-23,"b":5},{"t":75,"k":-3,"r":-2,"g":-21,"b":-8},{"t":78,"k":-5,"r":-6,"g":-19,"b":10},{"t":81,"k":-2,"r":-1,"g":-17,"b":-10},{"t":84,"k":-4,"r":-5,"g":-15,"b":3},{"t":87,"k":0,"r":2,"g":-13,"b":-5},{"t":90,"k":-1,"r":-3,"g":-11,"b":15},{"t":93,"k":0,"r":-1,"g":-5,"b":0},{"t":96,"k":-1,"r":0,"g":-4,"b":-1},{"t":99,"k":1,"r":0,"g":-3,"b":1},{"t":102,"k":0,"r":1,"g":-2,"b":2},{"t":105,"k":2,"r":2,"g":-1,"b":3},{"t":108,"k":3,"r":3,"g":0,"b":3},{"t":111,"k":4,"r":5,"g":1,"b":5},{"t":114,"k":5,"r":6,"g":3,"b":6},{"t":117,"k":7,"r":7,"g":5,"b":7},{"t":120,"k":8,"r":8,"g":6,"b":8},{"t":123,"k":9,"r":9,"g":22,"b":10},{"t":126,"k":10,"r":10,"g":8,"b":11},{"t":129,"k":11,"r":11,"g":10,"b":12},{"t":132,"k":12,"r":12,"g":11,"b":13},{"t":135,"k":13,"r":14,"g":12,"b":14},{"t":138,"k":15,"r":15,"g":14,"b":16},{"t":141,"k":18,"r":18,"g":17,"b":19},{"t":144,"k":21,"r":21,"g":20,"b":22},{"t":147,"k":20,"r":-23.6,"g":22,"b":21},{"t":150,"k":22,"r":21,"g":-24,"b":22},{"t":153,"k":19,"r":20,"g":18,"b":-3},{"t":156,"k":21,"r":22,"g":-20,"b":20},{"t":159,"k":20,"r":19,"g":20,"b":21},{"t":162,"k":22,"r":21,"g":-29,"b":19},{"t":165,"k":21,"r":20,"g":-25,"b":20},{"t":168,"k":20,"r":22,"g":-28,"b":21},{"t":171,"k":19,"r":21,"g":10,"b":22},{"t":174,"k":21,"r":19,"g":-26,"b":20},{"t":177,"k":20,"r":20,"g":18,"b":21},{"t":180,"k":20,"r":19,"g":20,"b":21},{"t":183,"k":21,"r":20,"g":22,"b":20},{"t":186,"k":19,"r":18,"g":-5,"b":19},{"t":189,"k":20,"r":21,"g":18,"b":21},{"t":192,"k":21,"r":20,"g":-23.6,"b":20},{"t":195,"k":20,"r":19,"g":20,"b":21},{"t":198,"k":19,"r":18,"g":18,"b":19},{"t":201,"k":10,"r":12,"g":19,"b":9},{"t":204,"k":18,"r":17,"g":17,"b":18},{"t":207,"k":17,"r":16,"g":16,"b":16},{"t":210,"k":15,"r":15,"g":15,"b":15}],
"pos":[{"t":0,"row":"TIME","val":"00:00"},{"t":30,"row":"TIME","val":"00:30"},{"t":60,"row":"TIME","val":"01:00"},{"t":90,"row":"TIME","val":"01:30"},{"t":120,"row":"TIME","val":"02:00"},{"t":150,"row":"TIME","val":"02:30"},{"t":180,"row":"TIME","val":"03:00"},{"t":210,"row":"TIME","val":"03:30"},{"t":0,"row":"GSMX","val":"4.06"},{"t":30,"row":"GSMX","val":"4.87"},{"t":60,"row":"GSMX","val":"5.63"},{"t":90,"row":"GSMX","val":"6.36"},{"t":120,"row":"GSMX","val":"7.04"},{"t":150,"row":"GSMX","val":"7.69"},{"t":180,"row":"GSMX","val":"8.31"},{"t":210,"row":"GSMX","val":"8.90"},{"t":0,"row":"GSMY","val":"-2.92"},{"t":30,"row":"GSMY","val":"-3.25"},{"t":60,"row":"GSMY","val":"-3.54"},{"t":90,"row":"GSMY","val":"-3.80"},{"t":120,"row":"GSMY","val":"-4.02"},{"t":150,"row":"GSMY","val":"-4.22"},{"t":180,"row":"GSMY","val":"-4.40"},{"t":210,"row":"GSMY","val":"-4.56"},{"t":0,"row":"GSMZ","val":"6.07"},{"t":30,"row":"GSMZ","val":"6.02"},{"t":60,"row":"GSMZ","val":"5.94"},{"t":90,"row":"GSMZ","val":"5.84"},{"t":120,"row":"GSMZ","val":"5.72"},{"t":150,"row":"GSMZ","val":"5.58"},{"t":180,"row":"GSMZ","val":"5.44"},{"t":210,"row":"GSMZ","val":"5.29"}]
},
"vconcat":[
{"width":496,"height":75,"layer":[
 {"data":{"name":"a"},"transform":[{"fold":["k","g"],"as":["s","v"]}],"mark":{"type":"line","clip":true,"strokeWidth":1.5},
  "encoding":{"x":{"field":"t","type":"quantitative","scale":{"domain":[0,210],"nice":false},"axis":{"orient":"bottom","title":null,"tickSize":{"condition":{"test":"datum.value % 30 === 0","value":-6},"value":-4}}},
   "y":{"field":"v","type":"quantitative","scale":{"domain":[-550,250],"nice":false,"zero":false},"axis":{"values":[-550,-150,250],"title":["Vx","(km/s)"]}},
   "color":{"field":"s","type":"nominal","scale":{"domain":["k","r","g","b"],"range":["#000000","#ff1010","#10ee10","#1a6cff"]},"legend":null}}},
 {"data":{"values":[{}]},"mark":{"type":"rule","strokeDash":[8,5],"color":"#333","strokeWidth":1.2},"encoding":{"y":{"datum":0,"type":"quantitative","axis":null}}},
 {"data":{"values":[{}]},"mark":{"type":"text","fontSize":14},"encoding":{"x":{"datum":202,"type":"quantitative","axis":{"orient":"top","title":null,"tickSize":{"condition":{"test":"datum.value % 30 === 0","value":-6},"value":-4}}},"y":{"datum":104,"type":"quantitative","axis":{"orient":"right","values":[-550,-150,250],"title":null}},"text":{"value":"(a)"}}},
 {"data":{"values":[{}]},"mark":{"type":"text","fontSize":15.5,"align":"left","baseline":"alphabetic","dy":-4},"encoding":{"x":{"datum":0,"type":"quantitative","axis":null},"y":{"datum":250,"type":"quantitative","axis":null},"text":{"value":"CLUSTER"}}},
 {"data":{"values":[{}]},"mark":{"type":"text","fontSize":15.5,"align":"right","baseline":"alphabetic","dy":-4},"encoding":{"x":{"datum":210,"type":"quantitative","axis":null},"y":{"datum":250,"type":"quantitative","axis":null},"text":{"value":"1 April 2003"}}}
],"resolve":{"axis":{"x":"independent","y":"independent"}}},
{"width":496,"height":75,"layer":[
 {"data":{"name":"b"},"transform":[{"fold":["k","g"],"as":["s","v"]}],"mark":{"type":"line","clip":true,"strokeWidth":1.5},
  "encoding":{"x":{"field":"t","type":"quantitative","scale":{"domain":[0,210],"nice":false},"axis":{"orient":"bottom","title":null,"tickSize":{"condition":{"test":"datum.value % 30 === 0","value":-6},"value":-4}}},
   "y":{"field":"v","type":"quantitative","scale":{"domain":[-350,450],"nice":false,"zero":false},"axis":{"values":[-350,50,450],"title":["Vy","(km/s)"]}},
   "color":{"field":"s","type":"nominal","scale":{"domain":["k","r","g","b"],"range":["#000000","#ff1010","#10ee10","#1a6cff"]},"legend":null}}},
 {"data":{"values":[{}]},"mark":{"type":"rule","strokeDash":[8,5],"color":"#333","strokeWidth":1.2},"encoding":{"y":{"datum":0,"type":"quantitative","axis":null}}},
 {"data":{"values":[{}]},"mark":{"type":"text","fontSize":14},"encoding":{"x":{"datum":202,"type":"quantitative","axis":{"orient":"top","title":null,"tickSize":{"condition":{"test":"datum.value % 30 === 0","value":-6},"value":-4}}},"y":{"datum":276,"type":"quantitative","axis":{"orient":"right","values":[-350,50,450],"title":null}},"text":{"value":"(b)"}}}
],"resolve":{"axis":{"x":"independent","y":"independent"}}},
{"width":496,"height":75,"layer":[
 {"data":{"name":"c"},"transform":[{"fold":["k","g"],"as":["s","v"]}],"mark":{"type":"line","clip":true,"strokeWidth":1.5},
  "encoding":{"x":{"field":"t","type":"quantitative","scale":{"domain":[0,210],"nice":false},"axis":{"orient":"bottom","title":null,"tickSize":{"condition":{"test":"datum.value % 30 === 0","value":-6},"value":-4}}},
   "y":{"field":"v","type":"quantitative","scale":{"domain":[-150,650],"nice":false,"zero":false},"axis":{"values":[-150,250,650],"title":["Vz","(km/s)"]}},
   "color":{"field":"s","type":"nominal","scale":{"domain":["k","r","g","b"],"range":["#000000","#ff1010","#10ee10","#1a6cff"]},"legend":null}}},
 {"data":{"values":[{}]},"mark":{"type":"rule","strokeDash":[8,5],"color":"#333","strokeWidth":1.2},"encoding":{"y":{"datum":0,"type":"quantitative","axis":null}}},
 {"data":{"values":[{}]},"mark":{"type":"text","fontSize":14},"encoding":{"x":{"datum":202,"type":"quantitative","axis":{"orient":"top","title":null,"tickSize":{"condition":{"test":"datum.value % 30 === 0","value":-6},"value":-4}}},"y":{"datum":497,"type":"quantitative","axis":{"orient":"right","values":[-150,250,650],"title":null}},"text":{"value":"(c)"}}}
],"resolve":{"axis":{"x":"independent","y":"independent"}}},
{"width":496,"height":75,"layer":[
 {"data":{"name":"d"},"transform":[{"fold":["k","g"],"as":["s","v"]}],"mark":{"type":"line","clip":true,"strokeWidth":1.5},
  "encoding":{"x":{"field":"t","type":"quantitative","scale":{"domain":[0,210],"nice":false},"axis":{"orient":"bottom","title":null,"tickSize":{"condition":{"test":"datum.value % 30 === 0","value":-6},"value":-4}}},
   "y":{"field":"v","type":"quantitative","scale":{"domain":[0,800],"nice":false,"zero":false},"axis":{"values":[0,400,800],"title":["V","(km/s)"]}},
   "color":{"field":"s","type":"nominal","scale":{"domain":["k","r","g","b"],"range":["#000000","#ff1010","#10ee10","#1a6cff"]},"legend":null}}},
 {"data":{"values":[{}]},"mark":{"type":"text","fontSize":14},"encoding":{"x":{"datum":202,"type":"quantitative","axis":{"orient":"top","title":null,"tickSize":{"condition":{"test":"datum.value % 30 === 0","value":-6},"value":-4}}},"y":{"datum":649,"type":"quantitative","axis":{"orient":"right","values":[0,400,800],"title":null}},"text":{"value":"(d)"}}}
],"resolve":{"axis":{"x":"independent","y":"independent"}}},
{"width":496,"height":75,"layer":[
 {"data":{"name":"e"},"transform":[{"fold":["k","g"],"as":["s","v"]}],"mark":{"type":"line","clip":true,"strokeWidth":1.5},
  "encoding":{"x":{"field":"t","type":"quantitative","scale":{"domain":[0,210],"nice":false},"axis":{"orient":"bottom","title":null,"tickSize":{"condition":{"test":"datum.value % 30 === 0","value":-6},"value":-4}}},
   "y":{"field":"v","type":"quantitative","scale":{"domain":[0,40],"nice":false,"zero":false},"axis":{"values":[0,10,20,30,40],"labelFontSize":12,"title":["Tperp","(MK)"]}},
   "color":{"field":"s","type":"nominal","scale":{"domain":["k","r","g","b"],"range":["#000000","#ff1010","#10ee10","#1a6cff"]},"legend":null}}},
 {"data":{"values":[{}]},"mark":{"type":"rule","opacity":0},"encoding":{"y":{"datum":0,"type":"quantitative","axis":{"orient":"left","values":[1,2,3,4,5,6,7,8,9,11,12,13,14,15,16,17,18,19,21,22,23,24,25,26,27,28,29,31,32,33,34,35,36,37,38,39],"labels":false,"tickSize":-2.5,"title":null}}}},
 {"data":{"values":[{}]},"mark":{"type":"rule","opacity":0},"encoding":{"y":{"datum":0,"type":"quantitative","axis":{"orient":"right","values":[1,2,3,4,5,6,7,8,9,11,12,13,14,15,16,17,18,19,21,22,23,24,25,26,27,28,29,31,32,33,34,35,36,37,38,39],"labels":false,"tickSize":-2.5,"title":null}}}},
 {"data":{"values":[{}]},"mark":{"type":"text","fontSize":14},"encoding":{"x":{"datum":202,"type":"quantitative","axis":{"orient":"top","title":null,"tickSize":{"condition":{"test":"datum.value % 30 === 0","value":-6},"value":-4}}},"y":{"datum":27,"type":"quantitative","axis":{"orient":"right","values":[0,10,20,30,40],"title":null}},"text":{"value":"(e)"}}}
],"resolve":{"axis":{"x":"independent","y":"independent"}}},
{"width":496,"height":75,"layer":[
 {"data":{"name":"f"},"transform":[{"fold":["k","g"],"as":["s","v"]}],"mark":{"type":"line","clip":true,"strokeWidth":1.5},
  "encoding":{"x":{"field":"t","type":"quantitative","scale":{"domain":[0,210],"nice":false},"axis":{"orient":"bottom","title":null,"tickSize":{"condition":{"test":"datum.value % 30 === 0","value":-6},"value":-4}}},
   "y":{"field":"v","type":"quantitative","scale":{"domain":[0,40],"nice":false,"zero":false},"axis":{"values":[0,10,20,30,40],"labelFontSize":12,"title":["Tpar","(MK)"]}},
   "color":{"field":"s","type":"nominal","scale":{"domain":["k","r","g","b"],"range":["#000000","#ff1010","#10ee10","#1a6cff"]},"legend":null}}},
 {"data":{"values":[{}]},"mark":{"type":"rule","opacity":0},"encoding":{"y":{"datum":0,"type":"quantitative","axis":{"orient":"left","values":[1,2,3,4,5,6,7,8,9,11,12,13,14,15,16,17,18,19,21,22,23,24,25,26,27,28,29,31,32,33,34,35,36,37,38,39],"labels":false,"tickSize":-2.5,"title":null}}}},
 {"data":{"values":[{}]},"mark":{"type":"rule","opacity":0},"encoding":{"y":{"datum":0,"type":"quantitative","axis":{"orient":"right","values":[1,2,3,4,5,6,7,8,9,11,12,13,14,15,16,17,18,19,21,22,23,24,25,26,27,28,29,31,32,33,34,35,36,37,38,39],"labels":false,"tickSize":-2.5,"title":null}}}},
 {"data":{"values":[{}]},"mark":{"type":"text","fontSize":14},"encoding":{"x":{"datum":202,"type":"quantitative","axis":{"orient":"top","title":null,"tickSize":{"condition":{"test":"datum.value % 30 === 0","value":-6},"value":-4}}},"y":{"datum":27,"type":"quantitative","axis":{"orient":"right","values":[0,10,20,30,40],"title":null}},"text":{"value":"(f)"}}}
],"resolve":{"axis":{"x":"independent","y":"independent"}}},
{"width":496,"height":75,"layer":[
 {"data":{"name":"g"},"transform":[{"fold":["k","g"],"as":["s","v"]}],"mark":{"type":"line","clip":true,"strokeWidth":1.5},
  "encoding":{"x":{"field":"t","type":"quantitative","scale":{"domain":[0,210],"nice":false},"axis":{"orient":"bottom","title":null,"tickSize":{"condition":{"test":"datum.value % 30 === 0","value":-6},"value":-4}}},
   "y":{"field":"v","type":"quantitative","scale":{"domain":[0,10],"nice":false,"zero":false},"axis":{"values":[0,2,4,6,8,10],"labelFontSize":12,"title":["n","(c m³)"]}},
   "color":{"field":"s","type":"nominal","scale":{"domain":["k","r","g","b"],"range":["#000000","#ff1010","#10ee10","#1a6cff"]},"legend":null}}},
 {"data":{"values":[{}]},"mark":{"type":"rule","opacity":0},"encoding":{"y":{"datum":0,"type":"quantitative","axis":{"orient":"left","values":[0.5,1,1.5,2.5,3,3.5,4.5,5,5.5,6.5,7,7.5,8.5,9,9.5],"labels":false,"tickSize":-2.5,"title":null}}}},
 {"data":{"values":[{}]},"mark":{"type":"rule","opacity":0},"encoding":{"y":{"datum":0,"type":"quantitative","axis":{"orient":"right","values":[0.5,1,1.5,2.5,3,3.5,4.5,5,5.5,6.5,7,7.5,8.5,9,9.5],"labels":false,"tickSize":-2.5,"title":null}}}},
 {"data":{"values":[{}]},"mark":{"type":"text","fontSize":14},"encoding":{"x":{"datum":202,"type":"quantitative","axis":{"orient":"top","title":null,"tickSize":{"condition":{"test":"datum.value % 30 === 0","value":-6},"value":-4}}},"y":{"datum":2.1,"type":"quantitative","axis":{"orient":"right","values":[0,2,4,6,8,10],"title":null}},"text":{"value":"(g)"}}}
],"resolve":{"axis":{"x":"independent","y":"independent"}}},
{"width":496,"height":75,"layer":[
 {"data":{"name":"h"},"transform":[{"fold":["k","r","g","b"],"as":["s","v"]}],"mark":{"type":"line","clip":true,"strokeWidth":1.5},
  "encoding":{"x":{"field":"t","type":"quantitative","scale":{"domain":[0,210],"nice":false},"axis":{"orient":"bottom","title":null,"tickSize":{"condition":{"test":"datum.value % 30 === 0","value":-6},"value":-4}}},
   "y":{"field":"v","type":"quantitative","scale":{"domain":[0,116],"nice":false,"zero":false},"axis":{"values":[0,58,116],"title":["B","(nT)"]}},
   "color":{"field":"s","type":"nominal","scale":{"domain":["k","r","g","b"],"range":["#000000","#ff1010","#10ee10","#1a6cff"]},"legend":null}}},
 {"data":{"values":[{}]},"mark":{"type":"text","fontSize":14},"encoding":{"x":{"datum":202,"type":"quantitative","axis":{"orient":"top","title":null,"tickSize":{"condition":{"test":"datum.value % 30 === 0","value":-6},"value":-4}}},"y":{"datum":78,"type":"quantitative","axis":{"orient":"right","values":[0,58,116],"title":null}},"text":{"value":"(h)"}}}
],"resolve":{"axis":{"x":"independent","y":"independent"}}},
{"width":496,"height":75,"layer":[
 {"data":{"name":"i"},"transform":[{"fold":["k","r","g","b"],"as":["s","v"]}],"mark":{"type":"line","clip":true,"strokeWidth":1.5},
  "encoding":{"x":{"field":"t","type":"quantitative","scale":{"domain":[0,210],"nice":false},"axis":{"orient":"bottom","title":null,"tickSize":{"condition":{"test":"datum.value % 30 === 0","value":-6},"value":-4}}},
   "y":{"field":"v","type":"quantitative","scale":{"domain":[-80,36],"nice":false,"zero":false},"axis":{"values":[-80,-22,36],"title":["Bz","(nT)"]}},
   "color":{"field":"s","type":"nominal","scale":{"domain":["k","r","g","b"],"range":["#000000","#ff1010","#10ee10","#1a6cff"]},"legend":null}}},
 {"data":{"values":[{}]},"mark":{"type":"rule","strokeDash":[8,5],"color":"#333","strokeWidth":1.2},"encoding":{"y":{"datum":0,"type":"quantitative","axis":null}}},
 {"data":{"values":[{}]},"mark":{"type":"text","fontSize":14},"encoding":{"x":{"datum":202,"type":"quantitative","axis":{"orient":"top","title":null,"tickSize":{"condition":{"test":"datum.value % 30 === 0","value":-6},"value":-4}}},"y":{"datum":-57,"type":"quantitative","axis":{"orient":"right","values":[-80,-22,36],"title":null}},"text":{"value":"(i)"}}}
],"resolve":{"axis":{"x":"independent","y":"independent"}}},
{"width":496,"height":75,"layer":[
 {"data":{"name":"j"},"transform":[{"fold":["k","r","g","b"],"as":["s","v"]}],"mark":{"type":"line","clip":true,"strokeWidth":1.5},
  "encoding":{"x":{"field":"t","type":"quantitative","scale":{"domain":[0,210],"nice":false},"axis":{"orient":"bottom","title":null,"tickSize":{"condition":{"test":"datum.value % 30 === 0","value":-6},"value":-4}}},
   "y":{"field":"v","type":"quantitative","scale":{"domain":[-48,68],"nice":false,"zero":false},"axis":{"values":[-48,10,68],"title":["By","(nT)"]}},
   "color":{"field":"s","type":"nominal","scale":{"domain":["k","r","g","b"],"range":["#000000","#ff1010","#10ee10","#1a6cff"]},"legend":null}}},
 {"data":{"values":[{}]},"mark":{"type":"rule","strokeDash":[8,5],"color":"#333","strokeWidth":1.2},"encoding":{"y":{"datum":0,"type":"quantitative","axis":null}}},
 {"data":{"values":[{}]},"mark":{"type":"text","fontSize":14},"encoding":{"x":{"datum":202,"type":"quantitative","axis":{"orient":"top","title":null,"tickSize":{"condition":{"test":"datum.value % 30 === 0","value":-6},"value":-4}}},"y":{"datum":39,"type":"quantitative","axis":{"orient":"right","values":[-48,10,68],"title":null}},"text":{"value":"(j)"}}}
],"resolve":{"axis":{"x":"independent","y":"independent"}}},
{"width":496,"height":75,"layer":[
 {"data":{"name":"k"},"transform":[{"fold":["k","r","g","b"],"as":["s","v"]}],"mark":{"type":"line","clip":true,"strokeWidth":1.5},
  "encoding":{"x":{"field":"t","type":"quantitative","scale":{"domain":[0,210],"nice":false},"axis":{"orient":"bottom","title":null,"tickSize":{"condition":{"test":"datum.value % 30 === 0","value":-6},"value":-4}}},
   "y":{"field":"v","type":"quantitative","scale":{"domain":[-68,48],"nice":false,"zero":false},"axis":{"values":[-68,-10,48],"title":["Bx","(nT)"]}},
   "color":{"field":"s","type":"nominal","scale":{"domain":["k","r","g","b"],"range":["#000000","#ff1010","#10ee10","#1a6cff"]},
     "legend":{"orient":"none","legendX":488,"legendY":7,"title":null,"padding":0,"symbolOpacity":0,"symbolSize":1,"symbolStrokeWidth":0,"labelOffset":0,"rowPadding":-1,"labelFont":"Liberation Sans","labelFontWeight":"bold","labelFontSize":16,
       "labelExpr":"datum.value === 'k' ? 'C 1' : datum.value === 'r' ? 'C 2' : datum.value === 'g' ? 'C 3' : 'C 4'",
       "encode":{"labels":{"update":{"fill":{"signal":"datum.value === 'k' ? '#000000' : datum.value === 'r' ? '#ff1010' : datum.value === 'g' ? '#10ee10' : '#1a6cff'"}}}}}}}},
 {"data":{"values":[{}]},"mark":{"type":"rule","strokeDash":[8,5],"color":"#333","strokeWidth":1.2},"encoding":{"y":{"datum":0,"type":"quantitative","axis":null}}},
 {"data":{"values":[{}]},"mark":{"type":"text","fontSize":14},"encoding":{"x":{"datum":202,"type":"quantitative","axis":{"orient":"top","title":null,"tickSize":{"condition":{"test":"datum.value % 30 === 0","value":-6},"value":-4}}},"y":{"datum":-39,"type":"quantitative","axis":{"orient":"right","values":[-68,-10,48],"title":null}},"text":{"value":"(k)"}}}
],"resolve":{"axis":{"x":"independent","y":"independent"}}},
{"width":496,"height":48,"view":{"stroke":null},"data":{"name":"pos"},
 "mark":{"type":"text","fontSize":14,"baseline":"middle"},
 "encoding":{
  "x":{"field":"t","type":"quantitative","scale":{"domain":[0,210],"nice":false},"axis":null},
  "y":{"field":"row","type":"ordinal","sort":["TIME","GSMX","GSMY","GSMZ"],"scale":{"type":"point","padding":0.68},"axis":{"title":null,"ticks":false,"domain":false,"labelAlign":"left","labelPadding":86,"labelFontSize":14,"labelFlush":false,"labelBaseline":"middle"}},
  "text":{"field":"val"}}}
]
}
